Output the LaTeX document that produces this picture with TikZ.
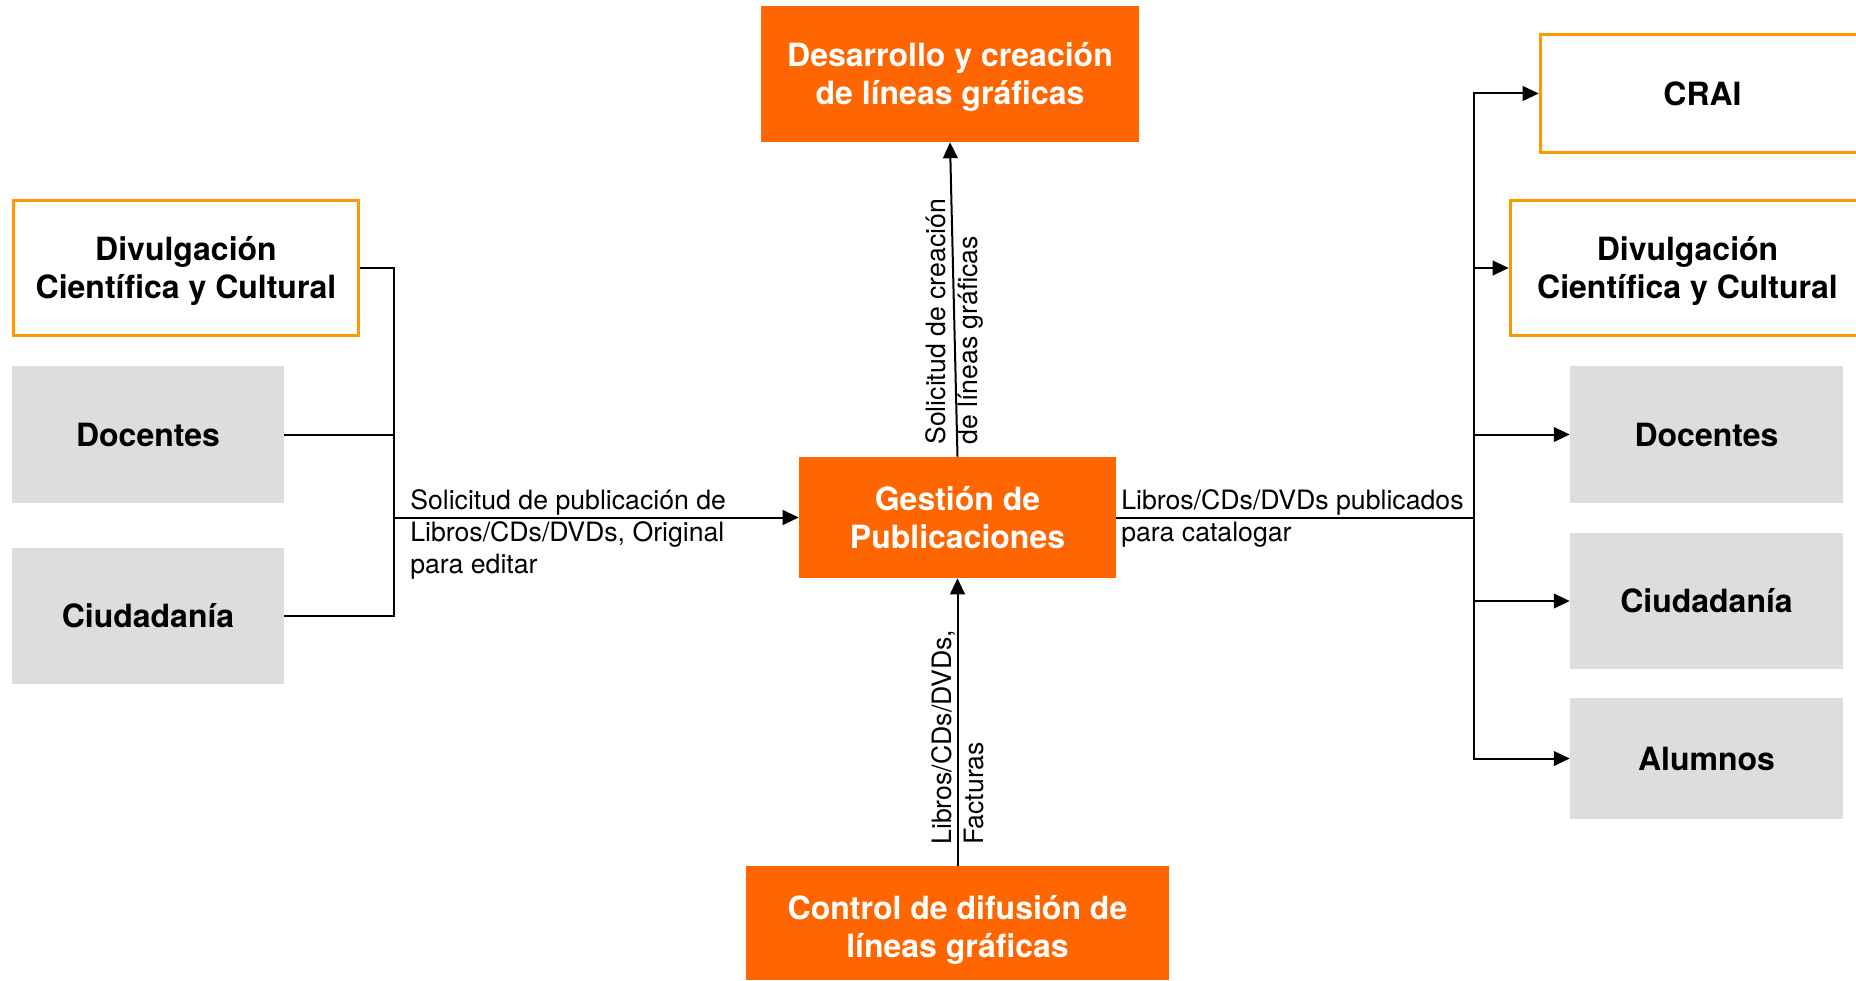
\documentclass[tikz,border=0pt]{standalone}
\usepackage{fontspec}
\setmainfont{TeX Gyre Heros}
\usetikzlibrary{arrows.meta}
\definecolor{orfill}{HTML}{FF6600}
\definecolor{orline}{HTML}{FF9900}
\definecolor{grayfill}{HTML}{DDDDDD}
\begin{document}
\begin{tikzpicture}[x=0.75pt,y=-0.75pt,
  box/.style={inner sep=0pt, align=center, font=\fontsize{24}{28.5}\selectfont\bfseries},
  obox/.style={box, fill=orfill, text=white},
  wbox/.style={box, fill=white, draw=orline, line width=2.25pt},
  gbox/.style={box, fill=grayfill},
  btext/.style={inner sep=0pt, align=center, font=\fontsize{24}{28.5}\selectfont\bfseries},
  conn/.style={line width=1.5pt},
  arr/.style={conn, -{Triangle[length=12pt,width=11pt]}},
  lbl/.style={inner sep=0pt, align=left, font=\fontsize{20}{24}\selectfont}
]
\path[use as bounding box] (0,0) rectangle (1856,981);

% left sources
\node[wbox, minimum width=259pt, minimum height=101.5pt,
  label={[btext, yshift=-2.5pt]center:Divulgación\\Científica y Cultural}] (lDiv) at (186,268) {};
\node[gbox, minimum width=204pt, minimum height=102.75pt] (lDoc) at (148,434.5) {Docentes};
\node[gbox, minimum width=204pt, minimum height=102pt] (lCiu) at (148,616) {Ciudadanía};

% centre
\node[obox, minimum width=237.75pt, minimum height=90.75pt] (Ges) at (957.5,517.5) {Gestión de\\Publicaciones};
\node[obox, minimum width=283.5pt, minimum height=102pt,
  label={[btext, text=white, yshift=-2.5pt]center:Desarrollo y creación\\de líneas gráficas}] (Des) at (950,74) {};
\node[obox, minimum width=317.25pt, minimum height=85.5pt,
  label={[btext, text=white, yshift=-5pt]center:Control de difusión de\\líneas gráficas}] (Con) at (957.5,923) {};

% right targets
\node[wbox, minimum width=243.5pt, minimum height=89pt] (CRAI) at (1702.5,93.5) {CRAI};
\node[wbox, minimum width=266pt, minimum height=101.5pt,
  label={[btext, yshift=-2.5pt]center:Divulgación\\Científica y Cultural}] (rDiv) at (1687.5,268) {};
\node[gbox, minimum width=204.75pt, minimum height=102.75pt] (rDoc) at (1706.5,434.5) {Docentes};
\node[gbox, minimum width=204.75pt, minimum height=102pt] (rCiu) at (1706.5,601) {Ciudadanía};
\node[gbox, minimum width=204.75pt, minimum height=90.75pt] (rAlu) at (1706.5,758.5) {Alumnos};

% left bus
\coordinate (lbus) at (394,517.5);
\draw[conn] (lDiv.east) -| (lbus);
\draw[conn] (lDoc.east) -| (lbus);
\draw[conn] (lCiu.east) -| (lbus);
\draw[arr] (lbus) -- (Ges.west);

% right bus
\coordinate (rbus) at (1474,517.5);
\draw[conn] (Ges.east) -- (rbus);
\draw[arr] (rbus) |- (CRAI.west);
\draw[arr] (rbus) |- (rDiv.west);
\draw[arr] (rbus) |- (rDoc.west);
\draw[arr] (rbus) |- (rCiu.west);
\draw[arr] (rbus) |- (rAlu.west);

% vertical arrows
\draw[arr] (Ges.north) -- (Des.south);
\draw[arr] (Con.north) -- (Ges.south);

% labels (anchor = baseline of the last line)
\node[lbl, anchor=base west] (l1) at (410,573) {Solicitud de publicación de\\Libros/CDs/DVDs, Original\\para editar};
\node[lbl, anchor=base west] (l2) at (1121,541) {Libros/CDs/DVDs publicados\\para catalogar};
\node[lbl, rotate=90, anchor=base west] (l3) at (977,445) {Solicitud de creación\\de líneas gráficas};
\node[lbl, rotate=90, anchor=base west] (l4) at (983,845) {Libros/CDs/DVDs,\\Facturas};
\end{tikzpicture}
\end{document}
